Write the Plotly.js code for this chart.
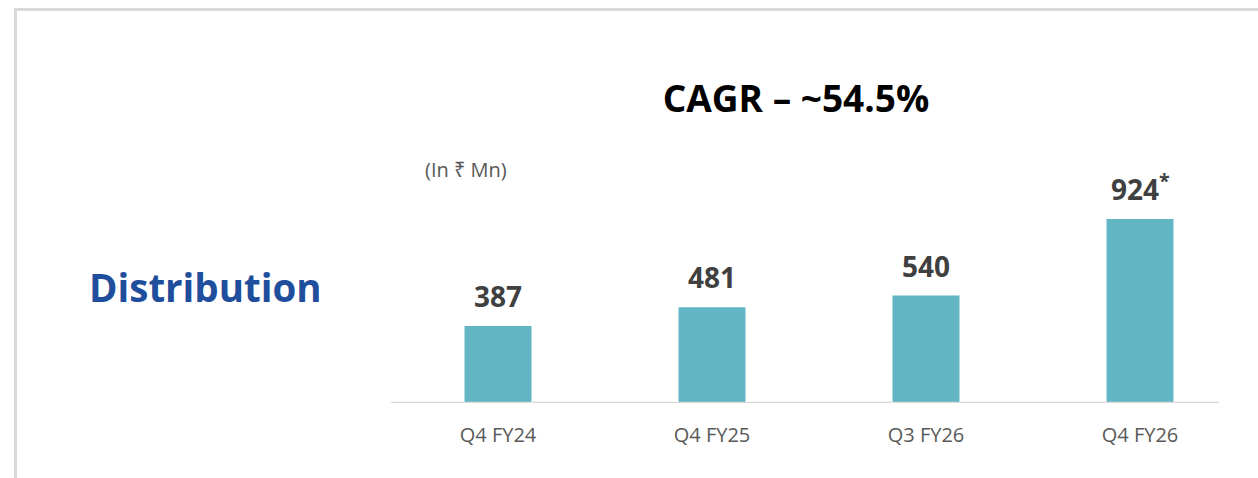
<!DOCTYPE html>
<html>
<head>
<meta charset="utf-8">
<script src="https://cdn.plot.ly/plotly-3.0.1.min.js"></script>
<style>
  html, body { margin: 0; padding: 0; background: #ffffff; }
  #chart { width: 1258px; height: 478px; }
</style>
</head>
<body>
<div id="chart"></div>
<script>
const categories = ["Q4 FY24", "Q4 FY25", "Q3 FY26", "Q4 FY26"];
const values = [387, 481, 540, 924];
const notes = ["", "", "", "*"];
const chartTitle = "CAGR – ~54.5%";
const sideLabel = "Distribution";
const unitLabel = "(In ₹ Mn)";

const barColor = "#62b5c2";
const FONT = "Open Sans, Noto Sans, Liberation Sans, sans-serif";

const trace = {
  type: "bar",
  x: categories,
  y: values,
  width: 0.313,
  marker: { color: barColor },
  hoverinfo: "x+y"
};

const valueAnnotations = categories.map((c, i) => ({
  x: c, y: values[i], xref: "x", yref: "y",
  text: "<b>" + values[i] + (notes[i] ? "<sup>" + notes[i] + "</sup>" : "") + "</b>",
  showarrow: false, yanchor: "bottom", xanchor: "center", yshift: 9,
  font: { family: FONT, size: 28, color: "#404040" }
}));

// pixel → paper helpers (plot area: left 391, width 856, bottom 403, height 199)
const PL = 391, PW = 856, PB = 403, PH = 199;
const px = v => (v - PL) / PW;
const py = v => (PB - v) / PH;

const layout = {
  width: 1258, height: 478,
  margin: { l: PL, r: 1258 - PL - PW, t: PB - PH, b: 478 - PB, pad: 0 },
  paper_bgcolor: "#ffffff", plot_bgcolor: "#ffffff",
  showlegend: false,
  title: {
    text: "<b>" + chartTitle + "</b>",
    font: { family: FONT, size: 37, color: "#000000" },
    x: 796 / 1258, xanchor: "center", xref: "container",
    y: 1 - 99 / 478, yanchor: "middle", yref: "container"
  },
  xaxis: {
    type: "category",
    showline: false, showgrid: false, zeroline: false,
    ticks: "outside", ticklen: 14, tickcolor: "rgba(0,0,0,0)",
    tickfont: { family: FONT, size: 20, color: "#595959" },
    fixedrange: true
  },
  yaxis: {
    range: [0, 1000], visible: false, showgrid: false, zeroline: false, fixedrange: true
  },
  shapes: [
    { type: "line", xref: "paper", yref: "y", x0: 0, x1: px(1219), y0: 0, y1: 0,
      line: { color: "#d9d9d9", width: 2.5 } },
    { type: "path", xref: "paper", yref: "paper",
      path: "M " + px(15.5) + " " + py(478) + " L " + px(15.5) + " " + py(9.5) + " L " + px(1258) + " " + py(9.5),
      line: { color: "#d9d9d9", width: 3 } }
  ],
  annotations: valueAnnotations.concat([
    { xref: "paper", yref: "paper", x: px(205), y: py(287), xanchor: "center", yanchor: "middle",
      text: "<b>" + sideLabel + "</b>", showarrow: false,
      font: { family: FONT, size: 38.5, color: "#1f4e9c" } },
    { xref: "paper", yref: "paper", x: px(466), y: py(169), xanchor: "center", yanchor: "middle",
      text: unitLabel, showarrow: false,
      font: { family: FONT, size: 20, color: "#595959" } }
  ])
};

Plotly.newPlot("chart", [trace], layout, { displayModeBar: false, staticPlot: true });
</script>
</body>
</html>
